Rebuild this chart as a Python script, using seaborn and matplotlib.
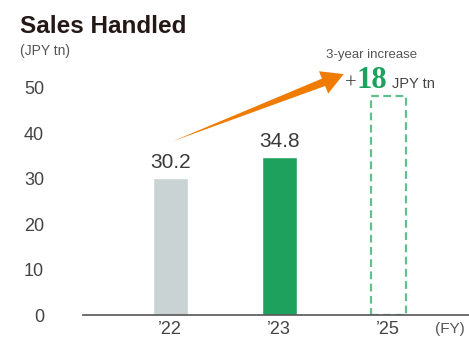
import matplotlib
matplotlib.use("Agg")
import matplotlib.pyplot as plt
import seaborn as sns
import pandas as pd

# Sales handled by fiscal year (JPY trillion); FY25 is the target
years = ["\u201922", "\u201923", "\u201925"]
values = [30.2, 34.8, 48.2]
y_ticks = [0, 10, 20, 30, 40, 50]

GRAY = "#CAD3D3"
GREEN = "#1FA15E"
GREEN_LIGHT = "#63C08C"
ORANGE = "#EF7B00"
TEXT = "#444444"

sns.set_theme(style="white")
plt.rcParams["font.family"] = ["Liberation Sans", "DejaVu Sans"]

df = pd.DataFrame({"year": years, "value": values})

fig = plt.figure(figsize=(4.69, 3.40), dpi=100)
ax = fig.add_axes([83 / 469, 25 / 340, (469 - 83) / 469, 250 / 340])

sns.barplot(data=df, x="year", y="value", hue="year",
            palette=[GRAY, GREEN, GREEN_LIGHT], width=0.32,
            legend=False, ax=ax, saturation=1)

# target bar drawn as a dashed outline
target = ax.patches[2]
target.set_facecolor("none")
target.set_edgecolor(GREEN_LIGHT)
target.set_linestyle((0, (3.5, 2)))
target.set_linewidth(1.6)

ax.set_xlim(-0.80, 2.74)
ax.set_ylim(0, 55)
ax.set_yticks(y_ticks)
ax.set_yticklabels([str(t) for t in y_ticks])
ax.tick_params(axis="y", length=0, pad=28, labelsize=13, labelcolor=TEXT)
ax.tick_params(axis="x", length=0, pad=4, labelsize=13, labelcolor=TEXT)
for lbl in ax.get_yticklabels():
    lbl.set_horizontalalignment("right")
ax.set_xlabel("")
ax.set_ylabel("")

for side in ["top", "right", "left"]:
    ax.spines[side].set_visible(False)
ax.spines["bottom"].set_color("#555555")
ax.spines["bottom"].set_linewidth(1.2)

# value labels on the actual bars
for i, v in enumerate(values[:2]):
    ax.text(i, v + 1.2, f"{v:.1f}", ha="center", va="bottom",
            fontsize=15, color="#3A3A3A")

# growth arrow: tapered shaft from FY22 plus a separate head
arrow_start = (0.02, values[0] + 8.0)
head_base = (1.43, 51.4)
arrow_tip = (1.59, 53.0)
ax.annotate("", xy=arrow_start, xytext=(1.46, 51.7),
            arrowprops=dict(arrowstyle="wedge,tail_width=0.5,shrink_factor=0.5",
                            color=ORANGE, lw=0, shrinkA=0, shrinkB=0),
            annotation_clip=False)
ax.annotate("", xy=arrow_tip, xytext=head_base,
            arrowprops=dict(arrowstyle="simple,head_length=1.3,head_width=1.45,tail_width=0.3",
                            color=ORANGE, lw=0, shrinkA=0, shrinkB=0),
            annotation_clip=False)

increase = values[2] - values[0]
ax.text(1.85, 56.5, "3-year increase", ha="center", va="baseline",
        fontsize=9.5, color="#555555", clip_on=False)
ax.text(1.715, 49.9, "+", ha="right", va="baseline", fontsize=15,
        color="#3A3A3A", family=["Liberation Serif", "DejaVu Serif"], clip_on=False)
ax.text(1.85, 49.9, f"{increase:.0f}", ha="center", va="baseline", fontsize=22,
        fontweight="bold", color=GREEN,
        family=["Liberation Serif", "DejaVu Serif"], clip_on=False)
ax.text(2.03, 49.9, "JPY tn", ha="left", va="baseline", fontsize=10.5,
        color="#444444", clip_on=False)

# titles and unit labels
fig.text(20 / 469, 1 - 33 / 340, "Sales Handled", fontsize=17.5,
         fontweight="bold", color="#231815", va="baseline")
fig.text(20 / 469, 1 - 55 / 340, "(JPY tn)", fontsize=10, color="#555555",
         va="baseline")
fig.text(465 / 469, 1 - 333 / 340, "(FY)", fontsize=11, color="#555555",
         ha="right", va="baseline")

fig.savefig("out.png", dpi=100)
